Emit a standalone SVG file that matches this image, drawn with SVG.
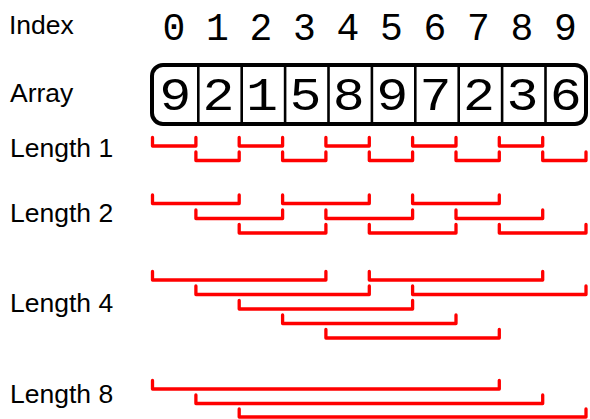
<svg xmlns="http://www.w3.org/2000/svg" width="590" height="419" viewBox="0 0 590 419">
<style>
.lbl{font-family:"Liberation Sans",Arial,sans-serif;font-size:26.5px;fill:#000}
.idx{font-family:"Liberation Mono","DejaVu Sans Mono",monospace;font-size:38px;fill:#000;text-anchor:middle}
.val{font-family:"Liberation Mono","DejaVu Sans Mono",monospace;font-size:46px;fill:#000;text-anchor:middle}
.br{fill:none;stroke:#ff0000;stroke-width:3.3;stroke-linecap:round;stroke-linejoin:round}
.div{stroke:#000;stroke-width:2.6}
</style>
<rect width="590" height="419" fill="#fff"/>
<g id="labels">
<text class="lbl" x="9" y="34">Index</text>
<text class="lbl" x="10" y="102">Array</text>
<text class="lbl" x="10" y="157">Length 1</text>
<text class="lbl" x="10" y="222">Length 2</text>
<text class="lbl" x="10" y="312">Length 4</text>
<text class="lbl" x="10" y="403">Length 8</text>
</g>
<g id="index">
<text class="idx" x="174" y="40">0</text>
<text class="idx" x="217.5" y="40">1</text>
<text class="idx" x="261" y="40">2</text>
<text class="idx" x="304.5" y="40">3</text>
<text class="idx" x="348" y="40">4</text>
<text class="idx" x="391.5" y="40">5</text>
<text class="idx" x="435" y="40">6</text>
<text class="idx" x="478.5" y="40">7</text>
<text class="idx" x="522" y="40">8</text>
<text class="idx" x="565.5" y="40">9</text>
</g>
<g id="array">
<rect x="152" y="65" width="434" height="59" rx="11" fill="none" stroke="#000" stroke-width="4"/>
<line class="div" x1="198.3" y1="65" x2="198.3" y2="124"/>
<line class="div" x1="241.7" y1="65" x2="241.7" y2="124"/>
<line class="div" x1="285.1" y1="65" x2="285.1" y2="124"/>
<line class="div" x1="328.5" y1="65" x2="328.5" y2="124"/>
<line class="div" x1="371.9" y1="65" x2="371.9" y2="124"/>
<line class="div" x1="415.3" y1="65" x2="415.3" y2="124"/>
<line class="div" x1="458.7" y1="65" x2="458.7" y2="124"/>
<line class="div" x1="502.1" y1="65" x2="502.1" y2="124"/>
<line class="div" x1="545.5" y1="65" x2="545.5" y2="124"/>
<text class="val" x="175.2" y="110" textLength="32" lengthAdjust="spacingAndGlyphs">9</text>
<text class="val" x="218.6" y="110" textLength="32" lengthAdjust="spacingAndGlyphs">2</text>
<text class="val" x="262" y="110" textLength="32" lengthAdjust="spacingAndGlyphs">1</text>
<text class="val" x="305.4" y="110" textLength="32" lengthAdjust="spacingAndGlyphs">5</text>
<text class="val" x="348.8" y="110" textLength="32" lengthAdjust="spacingAndGlyphs">8</text>
<text class="val" x="392.2" y="110" textLength="32" lengthAdjust="spacingAndGlyphs">9</text>
<text class="val" x="435.6" y="110" textLength="32" lengthAdjust="spacingAndGlyphs">7</text>
<text class="val" x="479" y="110" textLength="32" lengthAdjust="spacingAndGlyphs">2</text>
<text class="val" x="522.4" y="110" textLength="32" lengthAdjust="spacingAndGlyphs">3</text>
<text class="val" x="565.8" y="110" textLength="32" lengthAdjust="spacingAndGlyphs">6</text>
</g>
<g id="connectors">
<!-- Length 1 -->
<path class="br" d="M152.5 137.5V146H195.9V137.5M239.2 137.5V146H282.6V137.5M325.9 137.5V146H369.3V137.5M412.6 137.5V146H456V137.5M499.3 137.5V146H542.7V137.5"/>
<path class="br" d="M195.9 152V160.5H239.2V152M282.6 152V160.5H325.9V152M369.3 152V160.5H412.6V152M456 152V160.5H499.3V152M542.7 152V160.5H586V152"/>
<!-- Length 2 -->
<path class="br" d="M152.5 195V203.5H239.2V195M282.6 195V203.5H369.3V195M412.6 195V203.5H499.3V195"/>
<path class="br" d="M195.9 210V218.5H282.6V210M325.9 210V218.5H412.6V210M456 210V218.5H542.7V210"/>
<path class="br" d="M239.2 224.5V233H325.9V224.5M369.3 224.5V233H456V224.5M499.3 224.5V233H586V224.5"/>
<!-- Length 4 -->
<path class="br" d="M152.5 271.5V280H325.9V271.5M369.3 271.5V280H542.7V271.5"/>
<path class="br" d="M195.9 286V294.5H369.3V286M412.6 286V294.5H586V286"/>
<path class="br" d="M239.2 300.5V309H412.6V300.5"/>
<path class="br" d="M282.6 315V323.5H456V315"/>
<path class="br" d="M325.9 329.5V338H499.3V329.5"/>
<!-- Length 8 -->
<path class="br" d="M152.5 380.5V389H499.3V380.5"/>
<path class="br" d="M195.9 395V403.5H542.7V395"/>
<path class="br" d="M239.2 409V417H586V409"/>
</g>
</svg>
